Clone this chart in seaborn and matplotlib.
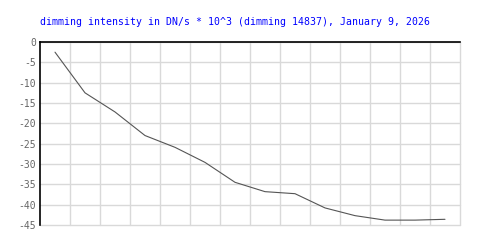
import matplotlib
matplotlib.use("Agg")
import matplotlib.pyplot as plt
import seaborn as sns
import pandas as pd
import numpy as np

steps = list(range(1, 15))
intensity = [-2.5, -12.5, -17.2, -23.0, -25.9, -29.6, -34.5, -36.8, -37.3,
             -40.8, -42.7, -43.8, -43.8, -43.6]
y_ticks = [0, -5, -10, -15, -20, -25, -30, -35, -40, -45]
title = "dimming intensity in DN/s * 10^3 (dimming 14837), January 9, 2026"

sns.set_theme(style="white")
plt.rcParams['font.family'] = ['DejaVu Sans Mono', 'DejaVu Sans']
plt.rcParams['axes.unicode_minus'] = False

df = pd.DataFrame({"step": steps, "intensity": intensity})

fig = plt.figure(figsize=(5, 2.5), dpi=100)
ax = fig.add_axes([0.08, 0.1, 0.84, 0.732])

sns.lineplot(data=df, x="step", y="intensity", ax=ax, color="#555555",
             linewidth=0.8, zorder=3)

ax.set_xlim(0.5, 14.5)
ax.set_ylim(-45, 0)
ax.set_xticks(np.arange(1.5, 15.0, 1.0))
ax.set_xticklabels([])
ax.set_yticks(y_ticks)
ax.set_yticklabels([str(t) for t in y_ticks], fontsize=7, color="#666666")
ax.tick_params(axis="both", length=0, pad=3)
ax.grid(True, color="#d9d9d9", linewidth=1.0, zorder=0, clip_on=False)
ax.set_axisbelow(True)
ax.set_xlabel("")
ax.set_ylabel("")

for side in ["left", "top"]:
    ax.spines[side].set_color("black")
    ax.spines[side].set_linewidth(1.2)
    ax.spines[side].set_visible(True)
    ax.spines[side].set_zorder(4)
for side in ["right", "bottom"]:
    ax.spines[side].set_visible(False)

fig.text(0.08, 0.912, title, fontsize=7.1, color="#0000ff", ha="left", va="center")

fig.savefig("out.png", dpi=100, facecolor="white")
